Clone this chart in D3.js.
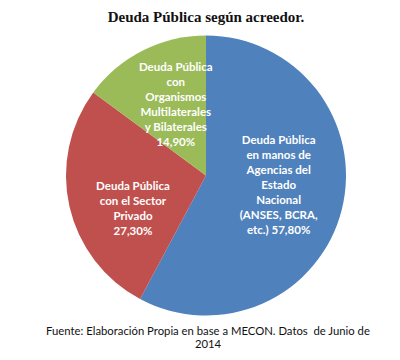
<!DOCTYPE html>
<html><head><meta charset="utf-8">
<script src="https://cdn.jsdelivr.net/npm/d3@7"></script>
<style>
html,body{margin:0;padding:0;background:#fff;}
svg{display:block;}
</style></head>
<body>
<svg id="chart" width="400" height="360"></svg>
<script>
const categories = ["Deuda Pública en manos de Agencias del Estado Nacional (ANSES, BCRA, etc.)", "Deuda Pública con el Sector Privado", "Deuda Pública con Organismos Multilaterales y Bilaterales"];
const values = [57.8, 27.3, 14.9];
const valueLabels = ["57,80%", "27,30%", "14,90%"];
const labelLines = [
  ["Deuda Pública", "en manos de", "Agencias del", "Estado", "Nacional", "(ANSES, BCRA,", "etc.) 57,80%"],
  ["Deuda Pública", "con el Sector", "Privado", "27,30%"],
  ["Deuda Pública", "con", "Organismos", "Multilaterales", "y Bilaterales", "14,90%"]
];
const colors = ["#4F81BD", "#C0504D", "#9BBB59"];
const title = "Deuda Pública según acreedor.";
const source = ["Fuente: Elaboración Propia en base a MECON. Datos  de Junio de", "2014"];

const svg = d3.select("#chart");
const cx = 206, cy = 175.5, R = 140;

svg.append("text").attr("x", 206).attr("y", 22).attr("text-anchor", "middle")
  .attr("font-family", "'Liberation Serif', 'Times New Roman', serif")
  .attr("font-weight", "bold").attr("font-size", 15).attr("fill", "#111").text(title);

const pie = d3.pie().sort(null).value(d => d);
const arcs = pie(values);
const arc = d3.arc().innerRadius(0).outerRadius(R);
const labelArc = d3.arc().innerRadius(78).outerRadius(78);

const g = svg.append("g").attr("transform", `translate(${cx},${cy})`);
g.selectAll("path").data(arcs).enter().append("path")
  .attr("d", arc).attr("fill", (d, i) => colors[i]);

const nudge = [[-3, -9], [3, 16], [5, -1]];
const lh = 15;
arcs.forEach((a, i) => {
  const [x, y] = labelArc.centroid(a);
  const lines = labelLines[i];
  const t = g.append("text").attr("text-anchor", "middle")
    .attr("font-family", "Lato, 'Open Sans', sans-serif").attr("font-weight", "bold")
    .attr("font-size", 11.5).attr("fill", "#fff");
  const y0 = y + nudge[i][1] - (lines.length - 1) * lh / 2;
  lines.forEach((l, k) => {
    t.append("tspan").attr("x", x + nudge[i][0]).attr("y", y0 + k * lh).attr("dy", "0.35em").text(l);
  });
});

const ft = svg.append("text").attr("text-anchor", "middle")
  .style("white-space", "pre")
  .attr("font-family", "Lato, 'Open Sans', sans-serif").attr("font-size", 11.3).attr("fill", "#111");
source.forEach((s, k) => {
  ft.append("tspan").attr("x", 208).attr("y", 335 + k * 13).text(s);
});
</script>
</body></html>
